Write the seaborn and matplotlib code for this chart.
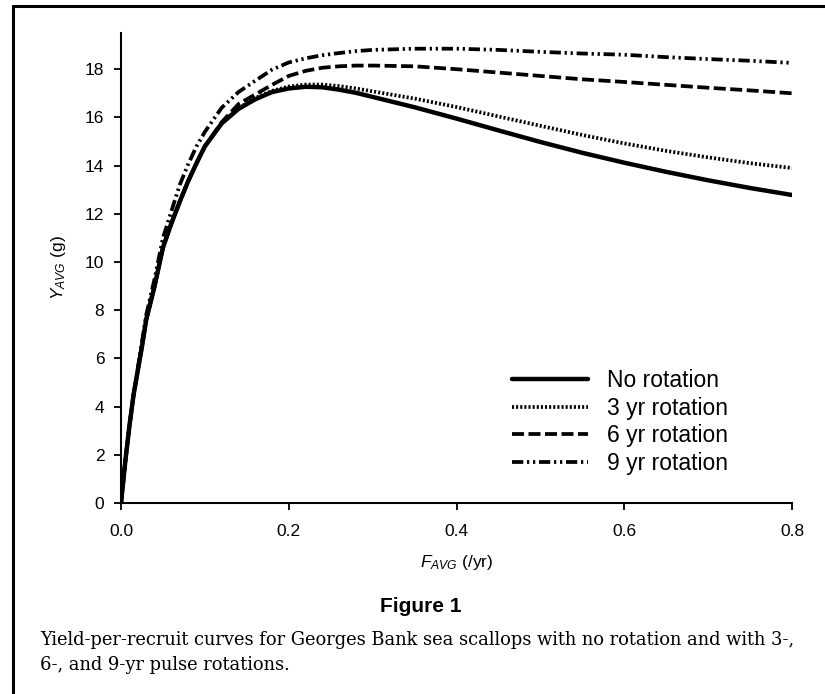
import numpy as np
import pandas as pd
import seaborn as sns
import matplotlib.pyplot as plt
from matplotlib.lines import Line2D

# fishing mortality (/yr) and yield per recruit (g)
f_avg = [0, 0.005, 0.01, 0.015, 0.02, 0.025, 0.03, 0.04, 0.05, 0.06, 0.07, 0.08,
         0.09, 0.10, 0.12, 0.14, 0.16, 0.18, 0.20, 0.22, 0.24, 0.26, 0.28, 0.30,
         0.35, 0.40, 0.45, 0.50, 0.55, 0.60, 0.65, 0.70, 0.75, 0.80]

no_rotation = [0, 1.7, 3.2, 4.5, 5.5, 6.5, 7.6, 9.0, 10.6, 11.6, 12.5, 13.35,
               14.1, 14.8, 15.75, 16.35, 16.75, 17.05, 17.2, 17.27, 17.25, 17.15, 17.02, 16.85,
               16.42, 15.95, 15.46, 14.98, 14.53, 14.12, 13.74, 13.39, 13.07, 12.78]

rot_3yr = [0, 1.7, 3.2, 4.5, 5.5, 6.5, 7.6, 9.0, 10.6, 11.6, 12.5, 13.35,
           14.1, 14.8, 15.75, 16.38, 16.8, 17.1, 17.28, 17.36, 17.36, 17.3, 17.2, 17.08,
           16.78, 16.43, 16.04, 15.65, 15.27, 14.92, 14.61, 14.34, 14.1, 13.9]

rot_6yr = [0, 1.7, 3.2, 4.5, 5.5, 6.5, 7.6, 9.0, 10.6, 11.6, 12.5, 13.35,
           14.1, 14.8, 15.8, 16.55, 16.95, 17.35, 17.72, 17.93, 18.06, 18.12, 18.15, 18.15,
           18.12, 18.0, 17.86, 17.72, 17.58, 17.47, 17.35, 17.23, 17.12, 17.0]

rot_9yr = [0, 1.7, 3.2, 4.5, 5.6, 6.7, 7.8, 9.3, 11.0, 12.1, 13.2, 14.05,
           14.8, 15.4, 16.4, 17.05, 17.52, 17.98, 18.28, 18.45, 18.58, 18.67, 18.75, 18.8,
           18.85, 18.85, 18.8, 18.72, 18.65, 18.6, 18.5, 18.42, 18.35, 18.26]

series_names = ["No rotation", "3 yr rotation", "6 yr rotation", "9 yr rotation"]

caption_1 = "Yield-per-recruit curves for Georges Bank sea scallops with no rotation and with 3-,"
caption_2 = "6-, and 9-yr pulse rotations."

frames = []
for name, vals in zip(series_names, [no_rotation, rot_3yr, rot_6yr, rot_9yr]):
    frames.append(pd.DataFrame({"F": f_avg, "Y": vals, "series": name}))
df = pd.concat(frames, ignore_index=True)

sns.set_style("ticks")
plt.rcParams["font.family"] = ["Liberation Sans", "DejaVu Sans"]
plt.rcParams["mathtext.fontset"] = "custom"
plt.rcParams["mathtext.rm"] = "Liberation Sans"
plt.rcParams["mathtext.it"] = "Liberation Sans:italic"
plt.rcParams["text.color"] = "black"
plt.rcParams["axes.labelcolor"] = "black"

fig = plt.figure(figsize=(8.25, 6.94), dpi=100)
ax = fig.add_axes([0.1467, 0.2752, 0.8133, 0.6772])

dash_map = {
    "No rotation": "",
    "3 yr rotation": (0.55, 0.55),
    "6 yr rotation": (3.2, 1.2),
    "9 yr rotation": (3.0, 1.0, 0.6, 1.0, 0.6, 1.0),
}
sns.lineplot(data=df, x="F", y="Y", hue="series", style="series",
             hue_order=series_names, style_order=series_names,
             palette=["black"] * 4, dashes=dash_map, linewidth=2.7,
             legend=False, ax=ax)
ax.get_lines()[0].set_linewidth(3.2)

ax.set_xlim(0, 0.8)
ax.set_ylim(0, 19.5)
ax.set_xticks([0.0, 0.2, 0.4, 0.6, 0.8])
ax.set_xticklabels(["0.0", "0.2", "0.4", "0.6", "0.8"])
ax.set_yticks(range(0, 19, 2))
ax.tick_params(axis="both", labelsize=12.5, direction="out", length=5, width=1.3,
               colors="black")
ax.tick_params(axis="x", pad=10)
ax.tick_params(axis="y", pad=7)
for side in ["left", "bottom"]:
    ax.spines[side].set_linewidth(1.5)
    ax.spines[side].set_color("black")
sns.despine(ax=ax)

ax.set_xlabel(r"$\mathit{F}_{\mathit{AVG}}$ (/yr)", fontsize=12.5, labelpad=10)
ax.set_ylabel(r"$\mathit{Y}_{\mathit{AVG}}$ (g)", fontsize=12.5, labelpad=12)

lines = ax.get_lines()[:4]
leg = ax.legend(lines, series_names, loc="upper left",
                bbox_to_anchor=(512 / 825, 1 - 369 / 694), bbox_transform=fig.transFigure,
                frameon=False, fontsize=16.5, handlelength=3.3, handletextpad=0.85,
                labelspacing=0.2, borderpad=0, borderaxespad=0)

fig.text(421 / 825, 1 - 607 / 694, "Figure 1", ha="center", va="center",
         fontsize=15, fontweight="bold")

# caption set in a wide serif, sized so the first line spans the page width
cap_family = ["DejaVu Serif"]
t1 = fig.text(40 / 825, 1 - 645 / 694, caption_1, ha="left", va="baseline",
              family=cap_family, fontsize=13)
fig.canvas.draw()
w = t1.get_window_extent(fig.canvas.get_renderer()).width
cap_size = 13 * 760 / w
t1.set_fontsize(cap_size)
fig.text(40 / 825, 1 - 670 / 694, caption_2, ha="left", va="baseline",
         family=cap_family, fontsize=cap_size)

# page frame from the scan
fig.add_artist(Line2D([13 / 825, 13 / 825], [0, 1 - 6 / 694], transform=fig.transFigure,
                      color="black", linewidth=2.2))
fig.add_artist(Line2D([13 / 825, 1], [1 - 6 / 694, 1 - 6 / 694], transform=fig.transFigure,
                      color="black", linewidth=2.2))

fig.savefig("out.png", dpi=100)
